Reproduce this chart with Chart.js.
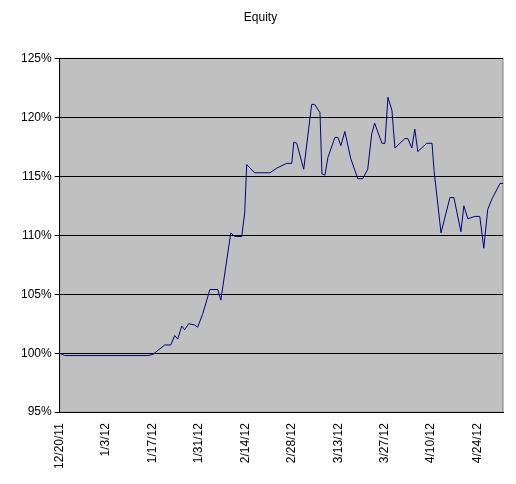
<!DOCTYPE html><html><head><script src="https://cdn.jsdelivr.net/npm/chart.js@4"></script>
<style>body{margin:0;background:#fff}#w{width:516px;height:484px}</style></head><body><div id="w"><canvas id="c"></canvas></div><script>
const tickLabels=["12/20/11","1/3/12","1/17/12","1/31/12","2/14/12","2/28/12","3/13/12","3/27/12","4/10/12","4/24/12"];
const days=[0,1.5,26.6,28.1,31.7,33.5,34.7,35.6,36.8,37.7,38.9,40.7,41.6,43.1,45.3,47.7,48.6,51.6,52.8,54.9,55.8,56.4,58.8,63.4,65.5,68.5,70,70.6,71.5,73.6,76,76.9,78.5,79.1,80,80.9,83,83.9,84.8,86,87.8,89.9,91.4,92.9,94.1,95,97.2,98.1,99,100.2,101.1,104.1,105,106.2,107.1,108,110.7,112.3,112.9,114.1,115,117.7,118.9,121,121.9,123.1,125.2,126.7,127.9,129.1,130.4,132.8,133.7];
const equity=[100,99.8,99.8,99.9,100.7,100.7,101.5,101.2,102.3,102.0,102.5,102.4,102.2,103.3,105.4,105.4,104.5,110.2,109.9,109.9,111.9,116.0,115.3,115.3,115.7,116.1,116.1,117.9,117.8,115.6,121.1,121.1,120.4,115.2,115.1,116.6,118.3,118.3,117.6,118.8,116.5,114.8,114.8,115.6,118.6,119.5,117.8,117.8,121.7,120.6,117.4,118.2,118.2,117.4,119.0,117.1,117.8,117.8,115.5,112.5,110.2,113.2,113.2,110.3,112.5,111.4,111.6,111.6,108.9,112.2,113.1,114.4,114.4];
const pts=days.map((d,i)=>({x:d,y:equity[i]}));
const bg={id:'bg',beforeDraw(c){const a=c.chartArea,x=c.ctx;x.save();x.fillStyle='#c0c0c0';x.fillRect(a.left,a.top,a.right-a.left,a.bottom-a.top);x.strokeStyle='#808080';x.strokeRect(a.left,a.top,a.right-a.left,a.bottom-a.top);x.restore();}};
new Chart(document.getElementById('c'),{type:'line',data:{datasets:[{data:pts,borderColor:'#000080',borderWidth:1,pointRadius:0,tension:0}]},
options:{responsive:true,maintainAspectRatio:false,animation:false,layout:{padding:{top:0,right:13,bottom:12,left:18}},
plugins:{legend:{display:false},title:{display:true,text:'Equity',color:'#000',font:{family:'Arial, Liberation Sans',size:12,weight:'normal'},padding:{top:10,bottom:34}}},
scales:{x:{type:'linear',min:0,max:133.7,afterBuildTicks(s){s.ticks=tickLabels.map((_,i)=>({value:i*14}));},
ticks:{callback:(v)=>tickLabels[Math.round(v/14)],maxRotation:90,minRotation:90,color:'#000',font:{family:'Arial, Liberation Sans',size:12}},
grid:{display:false,drawTicks:true},border:{color:'#000'}},
y:{min:95,max:125,ticks:{stepSize:5,callback:v=>v+'%',color:'#000',font:{family:'Arial, Liberation Sans',size:12}},grid:{color:'#000',drawTicks:true,tickLength:5},border:{color:'#000'}}}},plugins:[bg]});
</script></body></html>
